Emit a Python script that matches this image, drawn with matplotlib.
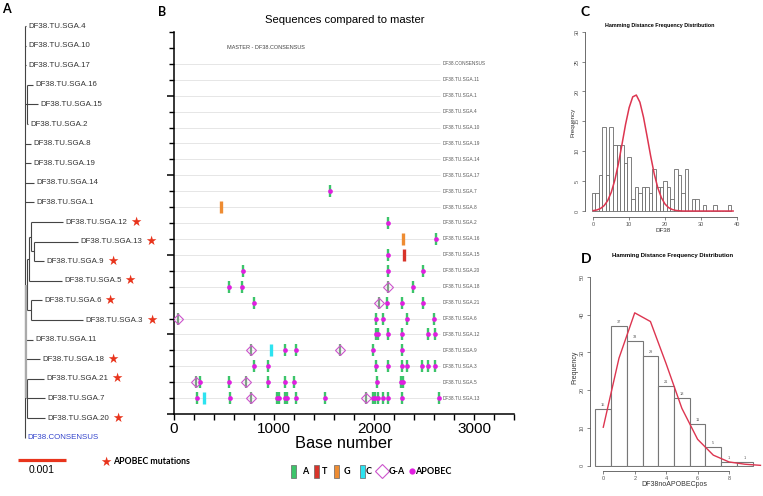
import numpy as np
import matplotlib
matplotlib.use("Agg")
import matplotlib.pyplot as plt
from matplotlib.ticker import MultipleLocator
from matplotlib.patches import Rectangle

plt.rcParams['font.family'] = ['Liberation Sans', 'DejaVu Sans']

# ---- panel A: tree (branch positions in units of 0.001 subst.) ----
tree_names = ["DF38.TU.SGA.4", "DF38.TU.SGA.10", "DF38.TU.SGA.17", "DF38.TU.SGA.16",
              "DF38.TU.SGA.15", "DF38.TU.SGA.2", "DF38.TU.SGA.8", "DF38.TU.SGA.19",
              "DF38.TU.SGA.14", "DF38.TU.SGA.1", "DF38.TU.SGA.12", "DF38.TU.SGA.13",
              "DF38.TU.SGA.9", "DF38.TU.SGA.5", "DF38.TU.SGA.6", "DF38.TU.SGA.3",
              "DF38.TU.SGA.11", "DF38.TU.SGA.18", "DF38.TU.SGA.21", "DF38.TU.SGA.7",
              "DF38.TU.SGA.20", "DF38.CONSENSUS"]
tree_start = [0, 0, 0, 0.04, 0.04, 0.04, 0, 0, 0, 0, 0.125, 0.19, 0.19, 0.085,
              0.125, 0.125, 0, 0.02, 0.04, 0.04, 0.04, 0]
tree_tip = [0.02, 0.02, 0.02, 0.17, 0.27, 0.06, 0.125, 0.125, 0.19, 0.19, 0.79, 1.10,
            0.40, 0.77, 0.35, 1.21, 0.17, 0.31, 0.40, 0.42, 0.42, 0]
tree_apobec = ["DF38.TU.SGA.12", "DF38.TU.SGA.13", "DF38.TU.SGA.9", "DF38.TU.SGA.5",
               "DF38.TU.SGA.6", "DF38.TU.SGA.3", "DF38.TU.SGA.18", "DF38.TU.SGA.21",
               "DF38.TU.SGA.20"]
# internal vertical segments (x, row_top, row_bottom) and joins (row, x0, x1)
tree_vlines = [(0, 0, 21), (0.04, 3, 5), (0.19, 11, 12), (0.125, 10, 11.5),
               (0.085, 10.75, 13), (0.125, 14, 15), (0.04, 11.9, 14.5), (0.04, 18, 20)]
tree_joins = [(4, 0, 0.04), (11.5, 0.125, 0.19), (10.75, 0.085, 0.125),
              (11.9, 0.04, 0.085), (14.5, 0.04, 0.125), (19, 0.02, 0.04)]

# ---- panel B: mutations per sequence (base number) ----
b_rows = ["DF38.TU.SGA.13", "DF38.TU.SGA.5", "DF38.TU.SGA.3", "DF38.TU.SGA.9",
          "DF38.TU.SGA.12", "DF38.TU.SGA.6", "DF38.TU.SGA.21", "DF38.TU.SGA.18",
          "DF38.TU.SGA.20", "DF38.TU.SGA.15", "DF38.TU.SGA.16", "DF38.TU.SGA.2",
          "DF38.TU.SGA.8", "DF38.TU.SGA.7", "DF38.TU.SGA.17", "DF38.TU.SGA.14",
          "DF38.TU.SGA.19", "DF38.TU.SGA.10", "DF38.TU.SGA.4", "DF38.TU.SGA.1",
          "DF38.TU.SGA.11", "DF38.CONSENSUS"]
apobec_sites = {
    "DF38.TU.SGA.7": [1560],
    "DF38.TU.SGA.2": [2140],
    "DF38.TU.SGA.16": [2615],
    "DF38.TU.SGA.15": [2140],
    "DF38.TU.SGA.20": [690, 2140, 2490],
    "DF38.TU.SGA.18": [550, 680, 2390],
    "DF38.TU.SGA.21": [800, 2130, 2280, 2490],
    "DF38.TU.SGA.6": [2020, 2090, 2330, 2600],
    "DF38.TU.SGA.12": [2020, 2040, 2140, 2280, 2540, 2610],
    "DF38.TU.SGA.9": [1110, 1220, 1990, 2280],
    "DF38.TU.SGA.3": [800, 940, 2020, 2140, 2280, 2330, 2480, 2540, 2610],
    "DF38.TU.SGA.5": [260, 550, 940, 1110, 1200, 2030, 2270, 2290],
    "DF38.TU.SGA.13": [230, 560, 1030, 1050, 1110, 1130, 1220, 1510, 1990, 2010,
                       2040, 2090, 2140, 2280, 2650],
}
ga_sites = {
    "DF38.TU.SGA.18": [2140],
    "DF38.TU.SGA.21": [2050],
    "DF38.TU.SGA.6": [40],
    "DF38.TU.SGA.9": [770, 1660],
    "DF38.TU.SGA.5": [220, 720],
    "DF38.TU.SGA.13": [770, 1920],
}
t_sites = {"DF38.TU.SGA.15": [2300]}
g_sites = {"DF38.TU.SGA.8": [470], "DF38.TU.SGA.16": [2290]}
c_sites = {"DF38.TU.SGA.9": [970], "DF38.TU.SGA.13": [300]}

# ---- panel C: histogram DF38 ----
c_bins = list(range(0, 39))
c_counts = [3, 3, 6, 14, 6, 14, 11, 11, 11, 8, 9, 2, 4, 3, 4, 4, 3, 7, 4, 4,
            5, 4, 2, 7, 6, 3, 7, 0, 2, 2, 0, 1, 0, 0, 1, 0, 0, 0, 1]
c_curve_x = list(range(0, 40))
c_curve_y = [0.07, 0.18, 0.42, 0.89, 1.73, 3.12, 5.17, 7.9, 11.15, 14.5, 17.3, 19.1,
             19.4, 18.2, 15.7, 12.5, 9.2, 6.2, 3.86, 2.22, 1.17, 0.57, 0.26, 0.1, 0.04,
             0, 0, 0, 0, 0, 0, 0, 0, 0, 0, 0, 0, 0, 0, 0]

# ---- panel D: histogram DF38noAPOBECpos ----
d_bins = list(range(0, 10))
d_counts = [15, 37, 33, 29, 21, 18, 11, 5, 1, 1]
d_curve_x = list(range(0, 11))
d_curve_y = [10.2, 28.5, 40.5, 38.2, 27.0, 15.2, 7.0, 2.8, 1.0, 0.4, 0.1]

W, H = 763, 496
fig = plt.figure(figsize=(W / 100, H / 100), dpi=100)


def box(x0, y0, x1, y1):
    return [x0 / W, 1 - y1 / H, (x1 - x0) / W, (y1 - y0) / H]


RED = '#e8341c'
bold = dict(family=['Lato', 'DejaVu Sans'], fontweight='bold')

# overlay for panel letters / legends
ov = fig.add_axes([0, 0, 1, 1])
ov.set_xlim(0, W)
ov.set_ylim(H, 0)
ov.axis('off')

# ===== A =====
axA = fig.add_axes(box(0, 0, 165, 496))
axA.set_xlim(-25 / 48, 140 / 48)
axA.set_ylim((496 - 26) / 19.6, -26 / 19.6)
axA.axis('off')
rows = np.arange(len(tree_names))
axA.hlines(rows, tree_start, tree_tip, color='#444444', lw=0.8)
for x, r0, r1 in tree_vlines:
    axA.vlines(x, r0, r1, color='#444444', lw=0.8)
axA.vlines(0.02, 13.2, 19.0, color='#aaaaaa', lw=1.6)
for r, x0, x1 in tree_joins:
    axA.hlines(r, x0, x1, color='#444444', lw=0.8)
for i, name in enumerate(tree_names):
    col = '#3344cc' if name == "DF38.CONSENSUS" else '#333333'
    t = axA.text(tree_tip[i] + 0.05, i, name, fontsize=5.7, va='center', ha='left', color=col)
    if name in tree_apobec:
        axA.annotate('\u2605', xy=(1, 0.5), xycoords=t, xytext=(2, 0),
                     textcoords='offset points', va='center', ha='left',
                     color=RED, fontsize=9, family='DejaVu Sans')
# scale bar 0.001
axA.plot([-0.146, 0.854], [(460 - 26) / 19.6] * 2, color=RED, lw=2.3, solid_capstyle='butt')
axA.text(0.354, (470 - 26) / 19.6, '0.001', fontsize=7.5, ha='center', va='center')
ov.text(106, 462, '\u2605', color=RED, fontsize=9, ha='center', va='center', family='DejaVu Sans')
ov.text(113, 462, 'APOBEC mutations', fontsize=6.3, ha='left', va='center', **bold)

# ===== B =====
axB = fig.add_axes(box(174, 32, 514, 414))
axB.set_xlim(0, 3400)
axB.set_ylim(0, 24)
for s in ['top', 'right']:
    axB.spines[s].set_visible(False)
for s in ['left', 'bottom']:
    axB.spines[s].set_linewidth(1.1)
axB.xaxis.set_major_locator(MultipleLocator(1000))
axB.xaxis.set_minor_locator(MultipleLocator(200))
axB.yaxis.set_major_locator(MultipleLocator(5))
axB.yaxis.set_minor_locator(MultipleLocator(1))
axB.tick_params(axis='x', which='both', direction='out', length=4, width=1, labelsize=11, pad=2)
axB.tick_params(axis='y', which='major', direction='out', length=5, width=1.1, labelleft=False)
axB.tick_params(axis='y', which='minor', direction='out', length=3.5, width=1)

row_y = {n: i + 1 for i, n in enumerate(b_rows)}
axB.hlines(list(row_y.values()), 0, 2660, color='#e6e6e6', lw=0.7, zorder=1)
for n, yv in row_y.items():
    axB.text(2690, yv, n, fontsize=3.4, va='center', ha='left', color='#555555')
axB.text(530, 23, 'MASTER - DF38.CONSENSUS', fontsize=4, va='center', ha='left', color='#444444')
axB.text(1710, 24.75, 'Sequences compared to master', fontsize=8.1, ha='center', va='center',
         clip_on=False)


def pts(d):
    xs, ys = [], []
    for k, v in d.items():
        xs += v
        ys += [row_y[k]] * len(v)
    return xs, ys


GREEN, TRED, ORANGE, CYAN, MAG = '#3cc46a', '#d8342a', '#ee8c32', '#2de3f0', '#e01ee0'
x, y = pts(ga_sites)
axB.plot(x, y, ls='none', marker='|', ms=9, mew=1.6, color='#7f9f86', zorder=3)
axB.plot(x, y, ls='none', marker='D', ms=4.6, mfc='none', mec='#cc55cc', mew=0.8, zorder=4)
x, y = pts(apobec_sites)
axB.plot(x, y, ls='none', marker='|', ms=8.5, mew=1.7, color=GREEN, zorder=3)
axB.plot(x, y, ls='none', marker='o', ms=3.4, color=MAG, mec='none', zorder=4)
for d, c in [(t_sites, TRED), (g_sites, ORANGE), (c_sites, CYAN)]:
    x, y = pts(d)
    axB.plot(x, y, ls='none', marker='|', ms=9, mew=2.4, color=c, zorder=3)
ov.text(344, 444, 'Base number', fontsize=11.8, ha='center', va='center')

# legend
LY = 471
for xc, c, lab, lx in [(293, GREEN, 'A', 305), (316, TRED, 'T', 325),
                       (336, ORANGE, 'G', 347), (362, CYAN, 'C', 369)]:
    ov.add_patch(Rectangle((xc - 2.5, LY - 6.5), 5, 13, facecolor=c, edgecolor='#666666', lw=0.5))
    ov.text(lx, LY, lab, fontsize=6.5, ha='center', va='center', **bold)
ov.plot([382], [LY], marker='D', ms=7, mfc='none', mec='#cc55cc', mew=0.8)
ov.text(397, LY, 'G-A', fontsize=6.5, ha='center', va='center', **bold)
ov.plot([412], [LY], marker='o', ms=4.5, color=MAG, mec='none')
ov.text(433, LY, 'APOBEC', fontsize=6.5, ha='center', va='center', **bold)

# panel letters
ov.text(6.5, 9, 'A', fontsize=9, ha='center', va='center', **bold)
ov.text(162, 12, 'B', fontsize=9, ha='center', va='center', **bold)
ov.text(585, 12, 'C', fontsize=10, ha='center', va='center', **bold)
ov.text(586, 259, 'D', fontsize=10, ha='center', va='center', **bold)


def r_style(ax, xb, yb, xt, yt, out=3):
    for s in ['top', 'right']:
        ax.spines[s].set_visible(False)
    for s in ['left', 'bottom']:
        ax.spines[s].set_position(('outward', out))
        ax.spines[s].set_linewidth(0.6)
        ax.spines[s].set_color('#555555')
    ax.spines['bottom'].set_bounds(*xb)
    ax.spines['left'].set_bounds(*yb)
    ax.set_xticks(xt)
    ax.set_yticks(yt)
    ax.tick_params(length=2, width=0.5, colors='#555555', labelsize=4, pad=1.5)
    for lab in ax.get_yticklabels():
        lab.set_rotation(90)
        lab.set_va('center')
    ax.set_facecolor('none')


# ===== C =====
axC = fig.add_axes(box(589, 30, 740, 213))
axC.set_xlim(-1.2, 40.92)
axC.set_ylim(-0.33, 30.28)
axC.bar(c_bins, c_counts, width=1, facecolor='white', edgecolor='#6a6a6a', lw=0.6)
axC.plot(c_curve_x, c_curve_y, color='#dd3550', lw=1.1)
r_style(axC, (0, 40), (0, 30), [0, 10, 20, 30, 40], [0, 5, 10, 15, 20, 25, 30])
ov.text(660, 25, 'Hamming Distance Frequency Distribution', fontsize=3.9, ha='center',
        va='center', fontweight='bold')
ov.text(663, 230.5, 'DF38', fontsize=4.5, ha='center', va='center', color='#333333')
ov.text(573, 122, 'Frequency', fontsize=4.5, ha='center', va='center', rotation=90, color='#333333')

# ===== D =====
axD = fig.add_axes(box(594, 276, 760, 467))
axD.set_xlim(-0.59, 9.97)
axD.set_ylim(-0.34, 50.26)
axD.bar(d_bins, d_counts, width=1, facecolor='white', edgecolor='#777777', lw=0.8)
for xb, cnt in zip(d_bins, d_counts):
    axD.text(xb, cnt + 0.6, str(cnt), fontsize=2.8, ha='center', va='bottom', color='#555555')
axD.plot(d_curve_x, d_curve_y, color='#dd3550', lw=1.0, clip_on=False)
r_style(axD, (0, 8), (0, 50), [0, 2, 4, 6, 8], [0, 10, 20, 30, 40, 50])
ov.text(673, 255, 'Hamming Distance Frequency Distribution', fontsize=4.3, ha='center',
        va='center', fontweight='bold')
ov.text(674, 485, 'DF38noAPOBECpos', fontsize=5, ha='center', va='center', color='#333333')
ov.text(575, 367, 'Frequency', fontsize=5, ha='center', va='center', rotation=90, color='#333333')

fig.savefig('out.png', dpi=100)
